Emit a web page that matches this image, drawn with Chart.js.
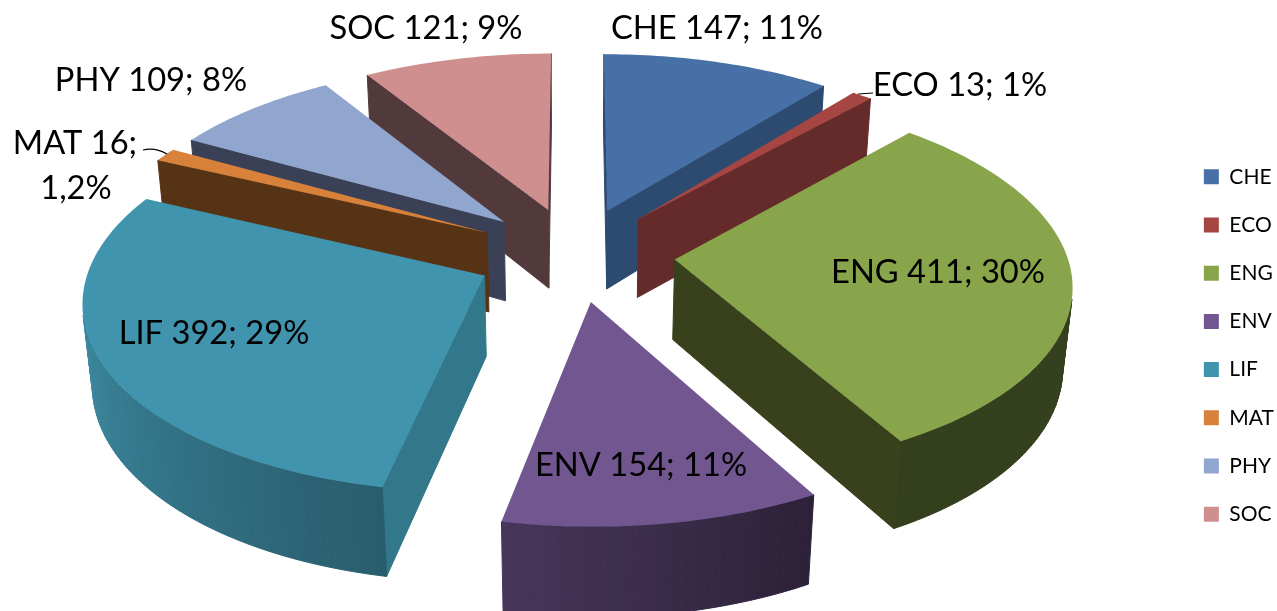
<!DOCTYPE html>
<html><head><meta charset="utf-8">
<style>html,body{margin:0;padding:0;background:#fff}canvas{display:block}</style>
<script src="https://cdn.jsdelivr.net/npm/chart.js@4"></script>
</head><body>
<canvas id="c" width="1277" height="611"></canvas>
<script>
const categories = ['CHE','ECO','ENG','ENV','LIF','MAT','PHY','SOC'];
const values = [147,13,411,154,392,16,109,121];
const percentLabels = ['11%','1%','30%','11%','29%','1,2%','8%','9%'];

const topColors = ['#4771a6','#a54643','#88a54c','#715690','#4194ad','#d8813b','#91a6cf','#cf8f8f'];
const cutColors = ['#2d4a70','#652a2a','#38411c','#45345a','#33788a','#573316','#3a4156','#523a3c'];

// camera that turns the flat pie into the tilted 3D look
const view = {cx:575, cy:254, k:.472, p:.12, q:.02, depth:80, pd:.14};
const explode = 100, pieRadius = 392;

// label layout (text centres) — not data
const labelCentres = [[717,28],[960,85],[938,272],[641,465],[214,333],[75,143,76,188],[151,80],[426,28]];

function project(X, Y, z){
  const v = Y / pieRadius;
  const w = 1 / (1 - view.p * v + view.q * z);
  const wd = 1 / (1 - view.pd * v);
  return [view.cx + X * w, view.cy + view.k * Y * w + view.depth * z * wd];
}
function rgb(hex){ return [1,3,5].map(i => parseInt(hex.substr(i,2),16)); }
function rimShade(deg){
  const pts = [[0,.40],[150,.38],[190,.62],[270,.97],[360,.97]];
  deg = ((deg % 360) + 360) % 360;
  for (let i = 1; i < pts.length; i++){
    if (deg <= pts[i][0]){
      const t = (deg - pts[i-1][0]) / (pts[i][0] - pts[i-1][0]);
      return pts[i-1][1] + t * (pts[i][1] - pts[i-1][1]);
    }
  }
  return .97;
}
function poly(ctx, pts, fill, line){
  ctx.beginPath();
  pts.forEach((p,i) => i ? ctx.lineTo(p[0],p[1]) : ctx.moveTo(p[0],p[1]));
  ctx.closePath();
  ctx.fillStyle = fill; ctx.fill();
  if (line){ ctx.strokeStyle = fill; ctx.lineWidth = 1; ctx.stroke(); }
}
function area(p){
  let s = 0;
  for (let i = 0; i < p.length; i++){ const a = p[i], b = p[(i+1)%p.length]; s += a[0]*b[1] - b[0]*a[1]; }
  return s;
}

const pie3d = {
  id:'pie3d',
  beforeDatasetsDraw(chart){
    const ctx = chart.ctx, arcs = chart.getDatasetMeta(0).data;
    const order = arcs.map((el,i) => i).sort((a,b) =>
      Math.sin((arcs[a].startAngle+arcs[a].endAngle)/2) - Math.sin((arcs[b].startAngle+arcs[b].endAngle)/2));
    order.forEach(i => {
      const el = arcs[i], a0 = el.startAngle, a1 = el.endAngle, mid = (a0+a1)/2;
      const R = el.outerRadius, off = el.options.offset;
      const ax = Math.cos(mid)*off, ay = Math.sin(mid)*off;
      const n = Math.max(2, Math.ceil((a1-a0)/(Math.PI/180)));
      const ground = [[ax,ay]];
      for (let s = 0; s <= n; s++){
        const a = a0 + (a1-a0)*s/n;
        ground.push([ax+Math.cos(a)*R, ay+Math.sin(a)*R, a]);
      }
      const top = ground.map(g => project(g[0],g[1],0));
      const bot = ground.map(g => project(g[0],g[1],1));
      const base = rgb(topColors[i]);
      for (let s = 0; s < top.length; s++){
        const t = (s+1) % top.length;
        const quad = [top[s],top[t],bot[t],bot[s]];
        if (area(quad) >= 0) continue;
        let fill = cutColors[i];
        if (s > 0 && t > 0){
          const deg = ((ground[s][2]+ground[t][2])/2 + Math.PI/2) * 180/Math.PI;
          const f = rimShade(deg);
          fill = `rgb(${base.map(c => Math.round(c*f)).join(',')})`;
        }
        poly(ctx, quad, fill, true);
      }
      poly(ctx, top, topColors[i], false);
    });
    // data labels
    ctx.fillStyle = '#000';
    ctx.font = '32.7px Lato';
    ctx.textAlign = 'center'; ctx.textBaseline = 'middle';
    categories.forEach((c,i) => {
      const pos = labelCentres[i];
      const head = `${c} ${values[i]};`;
      if (pos.length > 2){
        ctx.fillText(head, pos[0], pos[1]);
        ctx.fillText(percentLabels[i], pos[2], pos[3]);
      } else {
        ctx.fillText(`${head} ${percentLabels[i]}`, pos[0], pos[1]);
      }
    });
    // leader lines
    ctx.strokeStyle = '#000'; ctx.lineWidth = 1.2;
    ctx.beginPath(); ctx.moveTo(143,150); ctx.quadraticCurveTo(155,147,167,154); ctx.stroke();
    ctx.beginPath(); ctx.moveTo(858,94); ctx.lineTo(873,93); ctx.stroke();
    return false;
  }
};

new Chart(document.getElementById('c'),{
  type:'pie',
  data:{labels:categories,datasets:[{data:values,backgroundColor:topColors,borderWidth:0,offset:explode,hoverOffset:0,radius:pieRadius}]},
  options:{
    responsive:false,animation:false,devicePixelRatio:1,
    layout:{padding:{top:80,right:-7}},
    plugins:{
      tooltip:{enabled:false},
      legend:{position:'right',labels:{boxWidth:15,boxHeight:15,padding:27.2,color:'#000',font:{family:'Lato',size:21}}}
    }
  },
  plugins:[pie3d]
});
</script>
</body></html>
